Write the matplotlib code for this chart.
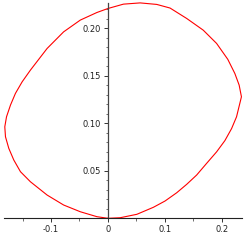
import matplotlib
matplotlib.use("Agg")
import matplotlib.pyplot as plt
import numpy as np

# closed curve, points (counter-clockwise from origin)
x_vals = [0.0, 0.0215, 0.0508, 0.0799, 0.1003, 0.1208, 0.1384, 0.1559, 0.1734, 0.1909,
          0.2054, 0.2172, 0.2259, 0.2317, 0.2345, 0.2305, 0.2229, 0.2105, 0.1909, 0.1674,
          0.1384, 0.1091, 0.0858, 0.0566, 0.0273, 0.0, -0.0193, -0.0485, -0.0778, -0.1068,
          -0.1361, -0.1506, -0.1624, -0.1711, -0.1781, -0.1811, -0.1799, -0.1741, -0.1653,
          -0.1536, -0.1361, -0.1068, -0.0778, -0.0485, -0.0193, 0.0]
y_vals = [0.0, 0.0006, 0.0042, 0.0116, 0.0182, 0.0269, 0.0358, 0.0456, 0.0579, 0.0700,
          0.0818, 0.0945, 0.1069, 0.1211, 0.1280, 0.1403, 0.1526, 0.1675, 0.1842, 0.1982,
          0.2105, 0.2215, 0.2253, 0.2269, 0.2256, 0.2210, 0.2168, 0.2088, 0.1964, 0.1789,
          0.1561, 0.1438, 0.1316, 0.1193, 0.1069, 0.0964, 0.0859, 0.0737, 0.0614,
          0.0491, 0.0385, 0.0245, 0.0140, 0.0069, 0.0017, 0.0]

x_ticks = [-0.1, 0.0, 0.1, 0.2]
x_labels = ["-0.1", "0", "0.1", "0.2"]
y_ticks = [0.05, 0.10, 0.15, 0.20]
y_labels = ["0.05", "0.10", "0.15", "0.20"]

fig = plt.figure(figsize=(2.45, 2.45), dpi=100)
ax = fig.add_axes([4 / 245, 26.7 / 245, 238 / 245, 215.3 / 245])

ax.plot(x_vals, y_vals, color="#ff0000", lw=0.8, clip_on=False,
        solid_joinstyle="round")

ax.set_xlim(-0.1825, 0.2355)
ax.set_ylim(0, 0.2268)

# maple-style axes crossing at the origin
for side in ["top", "right"]:
    ax.spines[side].set_visible(False)
ax.spines["left"].set_position(("data", 0))
ax.spines["bottom"].set_position(("data", 0))
ax.spines["left"].set_color("#444444")
ax.spines["bottom"].set_color("#222222")
ax.spines["left"].set_linewidth(0.9)
ax.spines["bottom"].set_linewidth(0.8)

ax.set_xticks(x_ticks)
ax.set_xticklabels(x_labels)
ax.set_xticks([-0.15, -0.05, 0.05, 0.15], minor=True)
ax.set_yticks(y_ticks)
ax.set_yticklabels(y_labels)
ax.set_yticks(np.arange(0.01, 0.227, 0.01), minor=True)

ax.tick_params(which="major", direction="out", length=3, width=0.7,
               color="#333333", labelsize=6, labelcolor="#222222", pad=2)
ax.tick_params(which="minor", direction="out", length=1.8, width=0.6, color="#555555")

plt.savefig("out.png", dpi=100)
